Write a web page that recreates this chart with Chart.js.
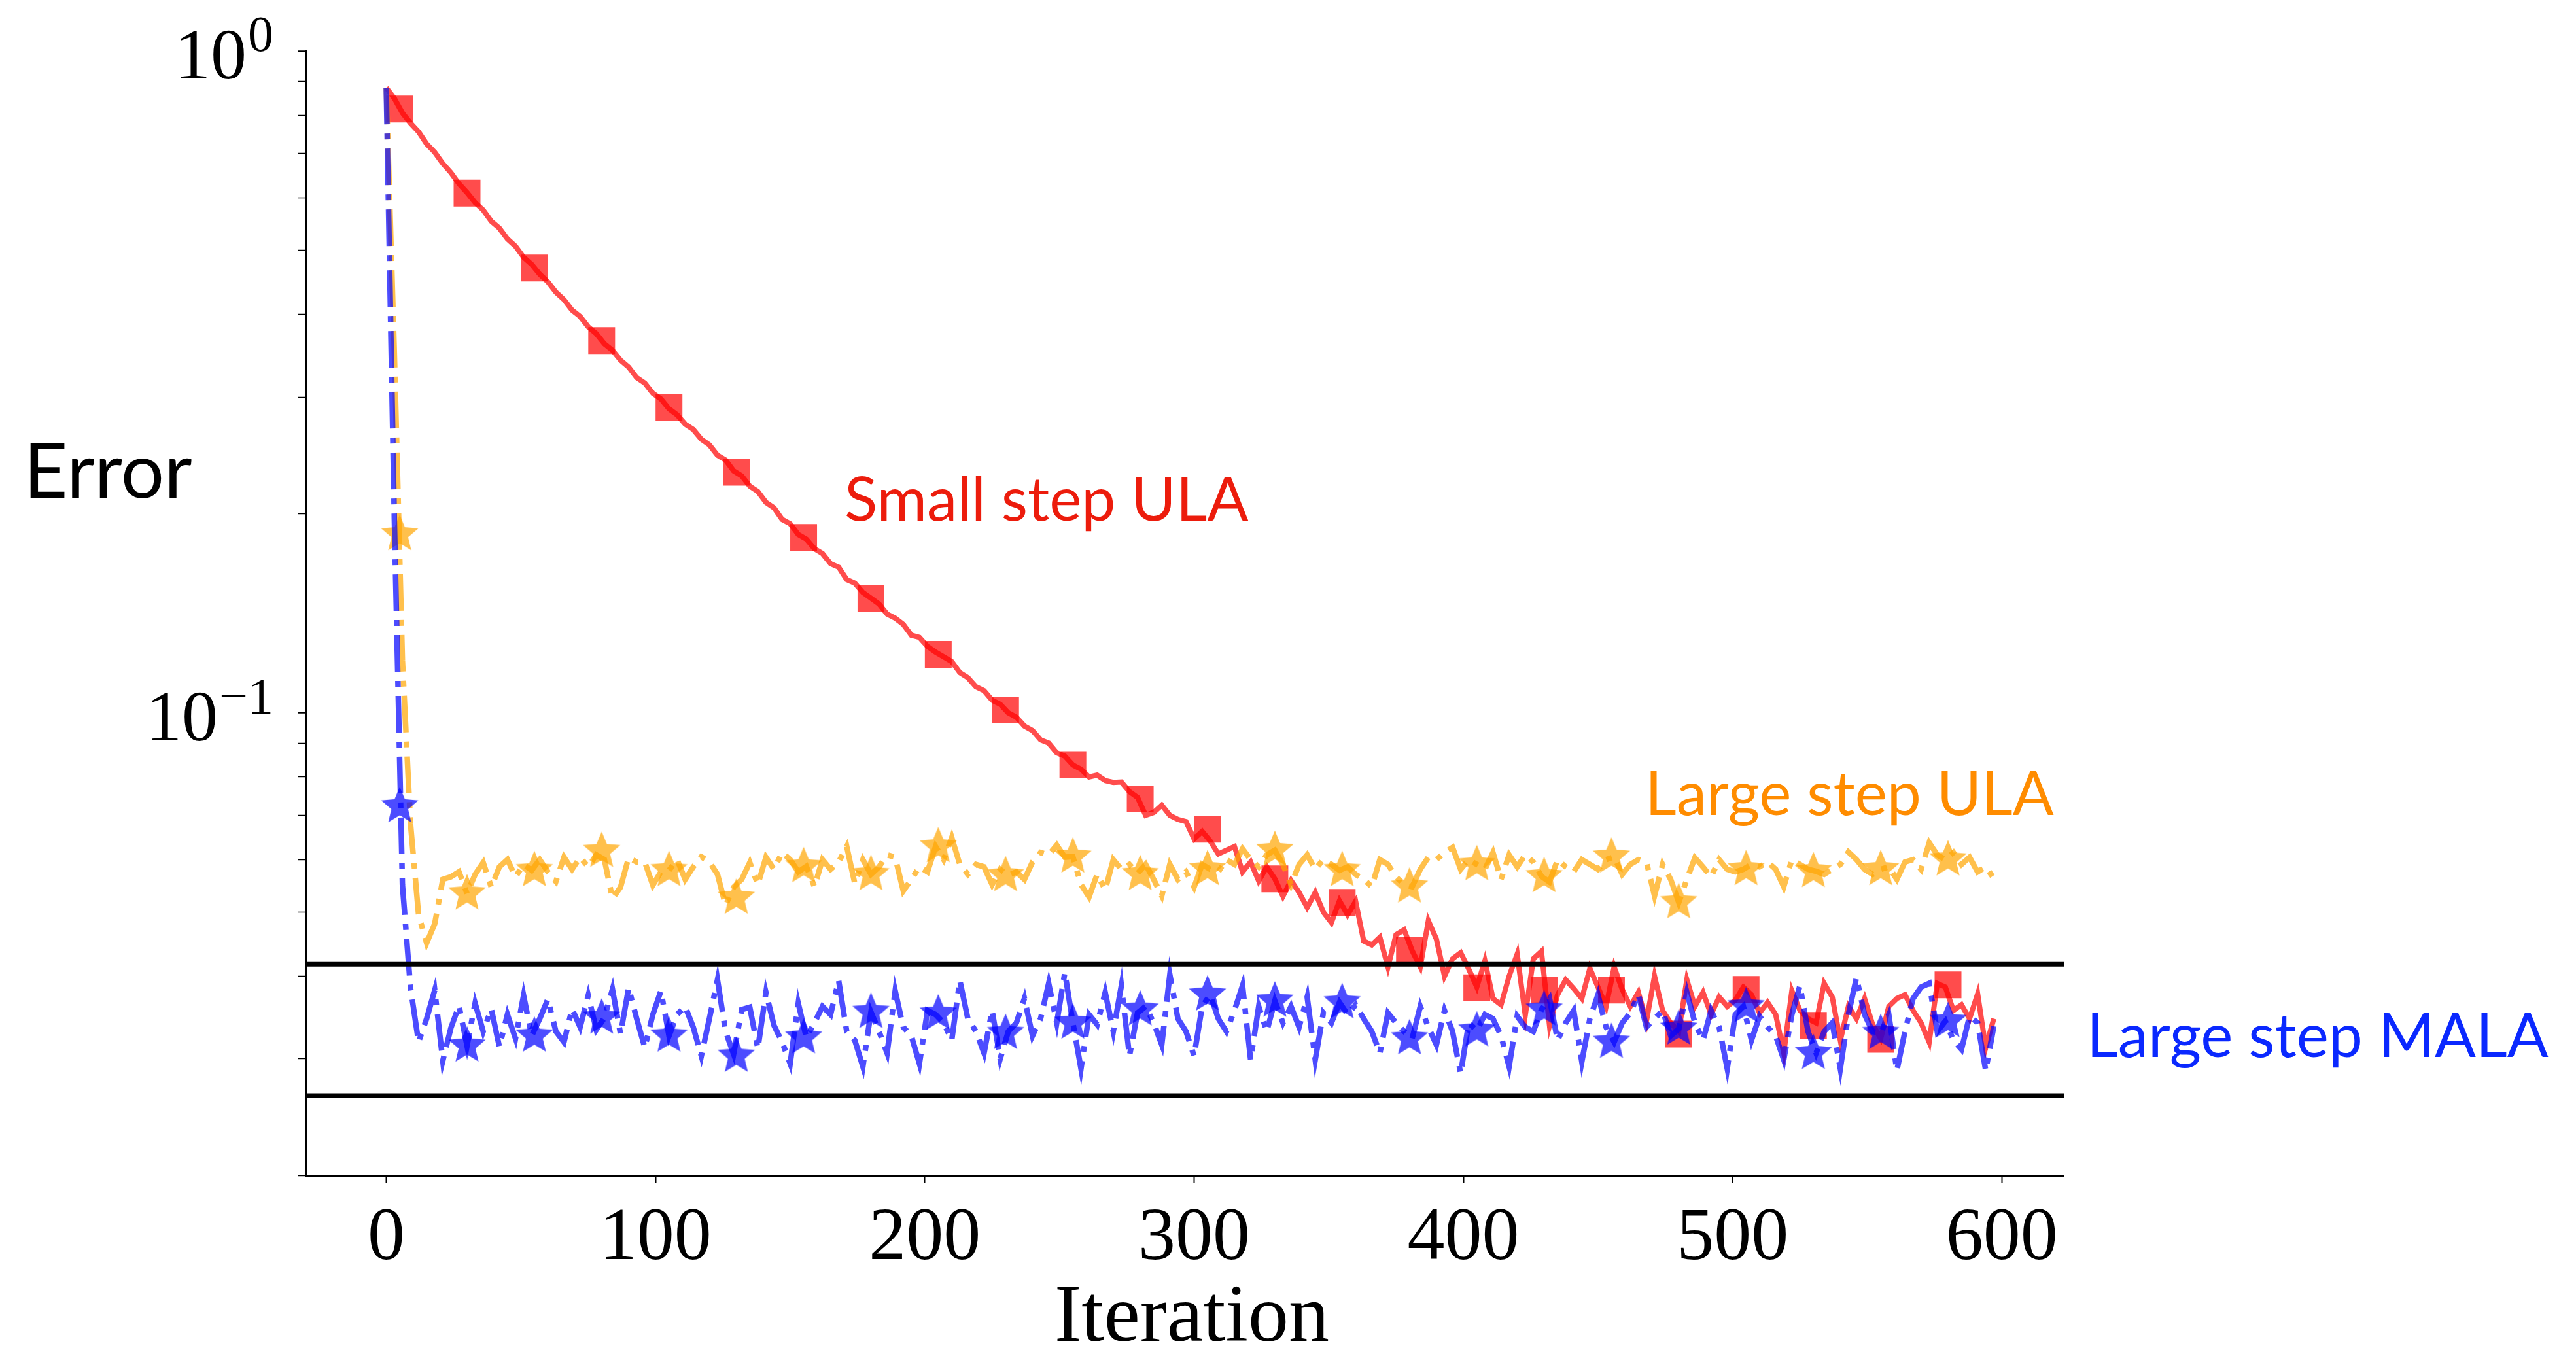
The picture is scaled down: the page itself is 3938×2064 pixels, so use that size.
<!DOCTYPE html>
<html>
<head>
<meta charset="utf-8">
<title>Error vs iteration</title>
<script src="https://cdn.jsdelivr.net/npm/chart.js@4.4.1/dist/chart.umd.min.js"></script>
<style>
  html, body { margin: 0; padding: 0; background: #fff; }
  #wrap { width: 3938px; height: 2064px; }
</style>
</head>
<body>
<div id="wrap"><canvas id="chart" width="3938" height="2064"></canvas></div>
<script>
// one value every STEP iterations
const STEP = 3;

const smallStepULA = [
  0.880, 0.848, 0.806, 0.778, 0.755, 0.724, 0.703, 0.676, 0.655, 0.630,
  0.611, 0.590, 0.575, 0.553, 0.540, 0.520, 0.507, 0.488, 0.476, 0.460,
  0.448, 0.432, 0.421, 0.406, 0.397, 0.383, 0.374, 0.361, 0.353, 0.341,
  0.333, 0.321, 0.315, 0.304, 0.298, 0.288, 0.282, 0.273, 0.268, 0.259,
  0.254, 0.245, 0.241, 0.232, 0.228, 0.220, 0.216, 0.208, 0.204, 0.196,
  0.193, 0.186, 0.183, 0.177, 0.174, 0.168, 0.166, 0.159, 0.157, 0.152,
  0.149, 0.146, 0.141, 0.139, 0.136, 0.131, 0.130, 0.126, 0.1235, 0.1215,
  0.1195, 0.1150, 0.1130, 0.1095, 0.1080, 0.1045, 0.1030, 0.1000, 0.0985, 0.0955,
  0.0940, 0.0910, 0.0900, 0.0870, 0.0860, 0.0834, 0.0822, 0.0800, 0.0805, 0.0790,
  0.0785, 0.0786, 0.0760, 0.0745, 0.0700, 0.0707, 0.0725, 0.0700, 0.0690, 0.0685,
  0.0645, 0.0662, 0.0640, 0.0612, 0.0620, 0.0628, 0.0575, 0.0595, 0.0557, 0.0585,
  0.0561, 0.0528, 0.0558, 0.0535, 0.0508, 0.0535, 0.0500, 0.0482, 0.0520, 0.0495,
  0.0519, 0.0452, 0.0446, 0.0458, 0.0413, 0.0462, 0.0470, 0.0437, 0.0413, 0.0485,
  0.0455, 0.0400, 0.0425, 0.0434, 0.0410, 0.0385, 0.0422, 0.0370, 0.0362, 0.0400,
  0.0432, 0.0349, 0.0425, 0.0436, 0.0337, 0.0375, 0.0395, 0.0383, 0.0370, 0.0411,
  0.0385, 0.0360, 0.0413, 0.0382, 0.0360, 0.0378, 0.0342, 0.0400, 0.0355, 0.0340,
  0.0330, 0.0395, 0.0360, 0.0378, 0.0350, 0.0372, 0.0360, 0.0368, 0.0385, 0.0375,
  0.0352, 0.0365, 0.0350, 0.0306, 0.0380, 0.0355, 0.0345, 0.0340, 0.0390, 0.0372,
  0.0320, 0.0360, 0.0345, 0.0370, 0.0338, 0.0322, 0.0360, 0.0370, 0.0375, 0.0355,
  0.0340, 0.0318, 0.0390, 0.0385, 0.0355, 0.0362, 0.0345, 0.0376, 0.0312, 0.0345
];

const largeStepULA = [
  0.880, 0.350, 0.120, 0.068, 0.0495, 0.0449, 0.0480, 0.0560, 0.0565, 0.0575,
  0.0533, 0.0570, 0.0594, 0.0545, 0.0585, 0.0600, 0.0565, 0.0590, 0.0578, 0.0600,
  0.0575, 0.0556, 0.0605, 0.0580, 0.0605, 0.0585, 0.0610, 0.0600, 0.0524, 0.0545,
  0.0604, 0.0595, 0.0595, 0.0549, 0.0575, 0.0578, 0.0600, 0.0560, 0.0585, 0.0606,
  0.0595, 0.0570, 0.0512, 0.0545, 0.0560, 0.0594, 0.0550, 0.0605, 0.0580, 0.0615,
  0.0600, 0.0575, 0.0586, 0.0546, 0.0600, 0.0580, 0.0595, 0.0628, 0.0552, 0.0600,
  0.0570, 0.0585, 0.0610, 0.0605, 0.0538, 0.0560, 0.0585, 0.0575, 0.0628, 0.0600,
  0.0648, 0.0590, 0.0570, 0.0590, 0.0585, 0.0550, 0.0580, 0.0568, 0.0575, 0.0560,
  0.0595, 0.0615, 0.0610, 0.0631, 0.0605, 0.0606, 0.0550, 0.0527, 0.0570, 0.0540,
  0.0600, 0.0580, 0.0590, 0.0572, 0.0590, 0.0560, 0.0529, 0.0590, 0.0560, 0.0575,
  0.0545, 0.0590, 0.0580, 0.0575, 0.0600, 0.0590, 0.0623, 0.0600, 0.0585, 0.0610,
  0.0620, 0.0590, 0.0550, 0.0590, 0.0610, 0.0580, 0.0600, 0.0590, 0.0578, 0.0585,
  0.0570, 0.0560, 0.0546, 0.0600, 0.0590, 0.0565, 0.0550, 0.0546, 0.0580, 0.0605,
  0.0600, 0.0615, 0.0626, 0.0580, 0.0600, 0.0590, 0.0580, 0.0615, 0.0560, 0.0610,
  0.0585, 0.0610, 0.0595, 0.0566, 0.0555, 0.0600, 0.0585, 0.0575, 0.0600, 0.0590,
  0.0580, 0.0600, 0.0606, 0.0570, 0.0590, 0.0600, 0.0595, 0.0529, 0.0590, 0.0560,
  0.0517, 0.0560, 0.0604, 0.0585, 0.0565, 0.0600, 0.0580, 0.0575, 0.0580, 0.0590,
  0.0585, 0.0595, 0.0580, 0.0546, 0.0600, 0.0590, 0.0580, 0.0576, 0.0570, 0.0580,
  0.0590, 0.0616, 0.0600, 0.0580, 0.0570, 0.0580, 0.0585, 0.0560, 0.0595, 0.0600,
  0.0580, 0.0636, 0.0610, 0.0600, 0.0615, 0.0590, 0.0605, 0.0575, 0.0585, 0.0562
];

const largeStepMALA = [
  0.880, 0.196, 0.055, 0.0384, 0.0318, 0.0345, 0.0381, 0.0298, 0.0334, 0.0361,
  0.0314, 0.0364, 0.0330, 0.0357, 0.0313, 0.0350, 0.0322, 0.0374, 0.0325, 0.0345,
  0.0369, 0.0330, 0.0318, 0.0357, 0.0335, 0.0374, 0.0332, 0.0346, 0.0382, 0.0327,
  0.0384, 0.0345, 0.0312, 0.0350, 0.0380, 0.0325, 0.0350, 0.0360, 0.0335, 0.0303,
  0.0345, 0.0395, 0.0330, 0.0305, 0.0356, 0.0359, 0.0311, 0.0378, 0.0337, 0.0318,
  0.0295, 0.0364, 0.0323, 0.0340, 0.0360, 0.0350, 0.0394, 0.0330, 0.0320, 0.0292,
  0.0353, 0.0330, 0.0306, 0.0380, 0.0335, 0.0325, 0.0295, 0.0355, 0.0350, 0.0340,
  0.0320, 0.0394, 0.0345, 0.0330, 0.0306, 0.0355, 0.0300, 0.0330, 0.0340, 0.0370,
  0.0325, 0.0345, 0.0390, 0.0340, 0.0405, 0.0340, 0.0290, 0.0350, 0.0338, 0.0378,
  0.0330, 0.0387, 0.0303, 0.0352, 0.0360, 0.0340, 0.0315, 0.0402, 0.0345, 0.0330,
  0.0303, 0.0360, 0.0375, 0.0345, 0.0330, 0.0355, 0.0387, 0.0299, 0.0360, 0.0330,
  0.0367, 0.0340, 0.0360, 0.0335, 0.0372, 0.0299, 0.0352, 0.0340, 0.0365, 0.0350,
  0.0362, 0.0345, 0.0330, 0.0306, 0.0352, 0.0340, 0.0330, 0.0322, 0.0360, 0.0335,
  0.0315, 0.0355, 0.0330, 0.0285, 0.0340, 0.0331, 0.0350, 0.0345, 0.0325, 0.0292,
  0.0348, 0.0335, 0.0330, 0.0356, 0.0370, 0.0320, 0.0340, 0.0355, 0.0297, 0.0345,
  0.0375, 0.0335, 0.0318, 0.0340, 0.0352, 0.0375, 0.0335, 0.0345, 0.0355, 0.0325,
  0.0333, 0.0378, 0.0340, 0.0320, 0.0355, 0.0335, 0.0290, 0.0350, 0.0360, 0.0320,
  0.0348, 0.0335, 0.0325, 0.0299, 0.0350, 0.0387, 0.0330, 0.0306, 0.0330, 0.0340,
  0.0290, 0.0350, 0.0398, 0.0350, 0.0330, 0.0328, 0.0350, 0.0288, 0.0330, 0.0370,
  0.0385, 0.0390, 0.0330, 0.0342, 0.0320, 0.0310, 0.0348, 0.0340, 0.0288, 0.0336
];

// markers sit every 25 iterations, starting at 5
const markIters = [5, 30, 55, 80, 105, 130, 155, 180, 205, 230, 255, 280,
                   305, 330, 355, 380, 405, 430, 455, 480, 505, 530, 555, 580];
const smallULAMarks = [0.817, 0.610, 0.470, 0.365, 0.289, 0.231, 0.184, 0.149, 0.1225, 0.101, 0.0835, 0.0741,
                       0.0667, 0.0561, 0.0517, 0.0437, 0.0384, 0.0381, 0.0381, 0.0327, 0.0382, 0.0337, 0.0321, 0.0388];
const largeULAMarks = [0.186, 0.0533, 0.0578, 0.0618, 0.0578, 0.0525, 0.0586, 0.0570, 0.0628, 0.0568, 0.0606, 0.0570,
                       0.0580, 0.0620, 0.0578, 0.0546, 0.0590, 0.0566, 0.0606, 0.0517, 0.0580, 0.0576, 0.0580, 0.0600];
const largeMALAMarks = [0.0722, 0.0314, 0.0325, 0.0346, 0.0325, 0.0303, 0.0323, 0.0353, 0.0351, 0.0328, 0.0340, 0.0356,
                        0.0375, 0.0367, 0.0365, 0.0322, 0.0331, 0.0356, 0.0318, 0.0333, 0.0360, 0.0306, 0.0328, 0.0342];

// the two horizontal black lines
const bandLevels = [0.0417, 0.0264];

const xTicks = [0, 100, 200, 300, 400, 500, 600];
const yTicks = [0.02, 0.03, 0.04, 0.05, 0.06, 0.07, 0.08, 0.09,
                0.1, 0.2, 0.3, 0.4, 0.5, 0.6, 0.7, 0.8, 0.9, 1];
// decade labels, drawn as 10 with a raised exponent
const yDecades = [1, 0.1];
const yDecadeExps = ['0', '\u22121'];

const X_MIN = -30, X_MAX = 623;
const Y_MIN = 0.02, Y_MAX = 1;

const RED = 'rgba(255, 0, 0, 0.7)';
const ORANGE = 'rgba(255, 165, 0, 0.7)';
const BLUE = 'rgba(0, 0, 255, 0.7)';
const DASH_DOT = [56, 14, 9, 14];

function starMarker(color, size) {
  const c = document.createElement('canvas');
  c.width = size;
  c.height = size;
  const g = c.getContext('2d');
  const R = size / 2 - 1;
  const r = R * 0.45;
  g.beginPath();
  for (let k = 0; k < 10; k++) {
    const rad = k % 2 === 0 ? R : r;
    const a = -Math.PI / 2 + k * Math.PI / 5;
    const px = size / 2 + rad * Math.cos(a);
    const py = size / 2 + rad * Math.sin(a);
    if (k === 0) g.moveTo(px, py); else g.lineTo(px, py);
  }
  g.closePath();
  g.fillStyle = color;
  g.fill();
  return c;
}

const toLine = (vals) => vals.map((y, i) => ({ x: i * STEP, y }));
const toMarks = (vals) => vals.map((y, i) => ({ x: markIters[i], y }));

const labels = [
  { text: 'Error', x: 36, y: 761, size: 117, color: '#000000', font: 'Lato', align: 'left' },
  { text: 'Iteration', x: 1822, y: 2050, size: 124, color: '#000000', font: '"Liberation Serif"', align: 'center' },
  { text: 'Small step ULA', x: 1291, y: 796, size: 93, color: '#ec1c0c', font: 'Lato', align: 'left' },
  { text: 'Large step ULA', x: 2515, y: 1246, size: 93, color: '#ff8c00', font: 'Lato', align: 'left' },
  { text: 'Large step MALA', x: 3190, y: 1616, size: 93, color: '#0a28ff', font: 'Lato', align: 'left' }
];

const freeText = {
  id: 'freeText',
  afterDraw(chart) {
    const ctx = chart.ctx;
    ctx.save();
    ctx.textBaseline = 'alphabetic';
    labels.forEach(t => {
      ctx.font = t.size + 'px ' + t.font;
      ctx.textAlign = t.align;
      ctx.fillStyle = t.color;
      ctx.fillText(t.text, t.x, t.y);
    });
    // y decade labels with a raised exponent
    const ys = chart.scales.y;
    const right = ys.right - 49;
    ctx.fillStyle = '#000';
    yDecades.forEach((v, i) => {
      const py = ys.getPixelForValue(v);
      ctx.font = '78px "Liberation Serif"';
      const ew = ctx.measureText(yDecadeExps[i]).width;
      ctx.textAlign = 'left';
      ctx.fillText(yDecadeExps[i], right - ew, py);
      ctx.font = '110px "Liberation Serif"';
      ctx.textAlign = 'right';
      ctx.fillText('10', right - ew - 2, py + 42);
    });
    ctx.restore();
  }
};

const bandSets = bandLevels.map(v => ({
  data: [{ x: X_MIN, y: v }, { x: X_MAX, y: v }],
  borderColor: '#000000',
  borderWidth: 7,
  pointRadius: 0,
  order: 0
}));

new Chart(document.getElementById('chart'), {
  type: 'line',
  data: {
    datasets: [
      ...bandSets,
      { data: toMarks(largeMALAMarks), showLine: false, pointStyle: starMarker(BLUE, 62),
        pointRadius: 28, order: 1 },
      { data: toLine(largeStepMALA), borderColor: BLUE, borderWidth: 8.5, borderDash: DASH_DOT,
        pointRadius: 0, order: 2 },
      { data: toMarks(largeULAMarks), showLine: false, pointStyle: starMarker(ORANGE, 62),
        pointRadius: 28, order: 3 },
      { data: toLine(largeStepULA), borderColor: ORANGE, borderWidth: 8.5, borderDash: DASH_DOT,
        pointRadius: 0, order: 4 },
      { data: toMarks(smallULAMarks), showLine: false, pointStyle: 'rect', pointRadius: 29,
        pointBackgroundColor: RED, pointBorderWidth: 0, order: 5 },
      { data: toLine(smallStepULA), borderColor: RED, borderWidth: 8,
        pointRadius: 0, order: 6 }
    ]
  },
  options: {
    responsive: false,
    animation: false,
    layout: { padding: { top: 78, right: 783, bottom: 0, left: 0 } },
    plugins: { legend: { display: false }, tooltip: { enabled: false } },
    scales: {
      x: {
        type: 'linear',
        min: X_MIN,
        max: X_MAX,
        afterBuildTicks: (scale) => { scale.ticks = xTicks.map(v => ({ value: v })); },
        afterFit: (scale) => { scale.height = 267; },
        grid: { drawOnChartArea: false, tickLength: 12, tickWidth: 2, tickColor: '#000' },
        border: { display: true, color: '#000', width: 3 },
        ticks: {
          autoSkip: false, maxRotation: 0, padding: 18, color: '#000',
          font: { family: 'Liberation Serif', size: 114 }
        }
      },
      y: {
        type: 'logarithmic',
        min: Y_MIN,
        max: Y_MAX,
        afterBuildTicks: (scale) => { scale.ticks = yTicks.map(v => ({ value: v })); },
        afterFit: (scale) => {
          scale.width = 467;
          scale.paddingTop = 0;
          scale.paddingBottom = 0;
        },
        grid: {
          drawOnChartArea: false, tickLength: 12, tickColor: '#000',
          tickWidth: (c) => (c.tick && yDecades.includes(c.tick.value) ? 2.5 : 1.5)
        },
        border: { display: true, color: '#000', width: 3 },
        ticks: {
          autoSkip: false, padding: 37, color: '#000',
          callback: () => ''
        }
      }
    }
  },
  plugins: [freeText]
});
</script>
</body>
</html>
